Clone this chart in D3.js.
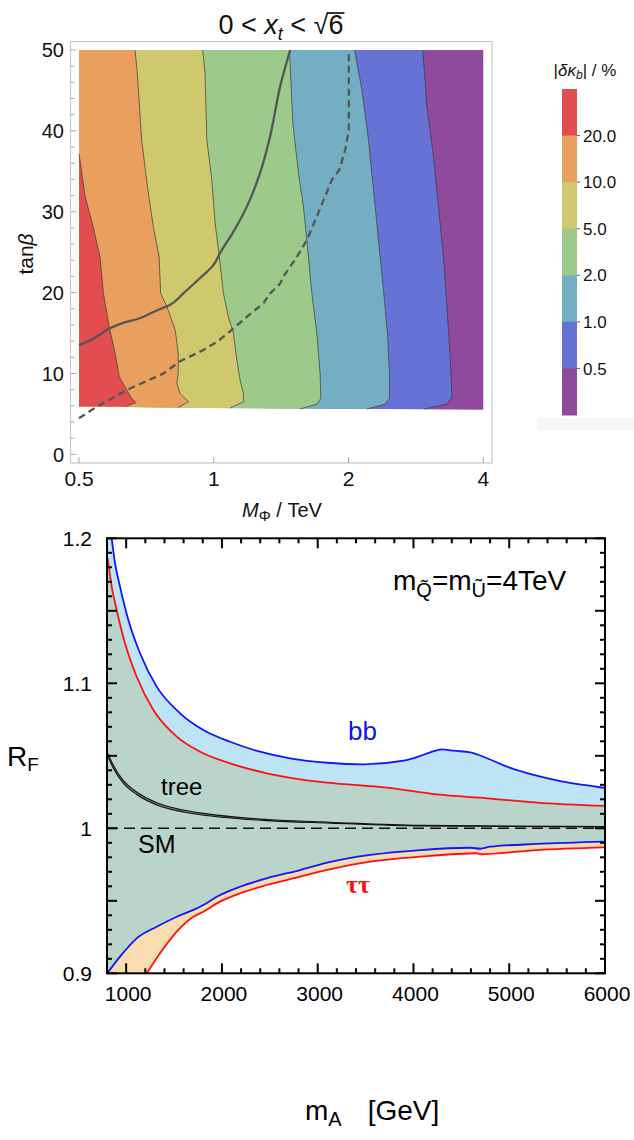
<!DOCTYPE html>
<html><head><meta charset="utf-8">
<script src="https://cdn.jsdelivr.net/npm/d3@7"></script>
<style>
body{margin:0;background:#fff}
svg{display:block}
text{font-family:"Liberation Sans",Arial,Helvetica,sans-serif}
</style>
</head><body>
<svg id="c" width="634" height="1140"></svg>
<script>
// ---------------- TOP PANEL DATA (M_Phi in TeV, tan beta) ----------------
const topXTicks = [0.5, 1, 2, 4];
const topXTickLabels = ["0.5", "1", "2", "4"];
const topYTicks = [0, 10, 20, 30, 40, 50];
const bandLabels = ["20.0", "10.0", "5.0", "2.0", "1.0", "0.5"];
const bandColors = ["#e24e4f", "#e9a05f", "#cfc86d", "#9dc98b", "#74aec2", "#6672d5", "#8f4a9e"];
const fillBase = [[4, 5.5], [0.5, 5.9]];
// contour boundaries (left → right): 20%, 10%, 5%, 2%, 1%, 0.5%
const contour20 = [[0.5,37.2],[0.516,31.9],[0.538,28.1],[0.557,24.4],[0.567,19.9],[0.584,15.8],[0.602,12.5],[0.615,9.6],[0.639,7.95],[0.656,6.9],[0.670,6.4],[0.634,5.9]];
const contour10 = [[0.667,50],[0.675,47.1],[0.690,38.9],[0.711,33.1],[0.733,28.1],[0.755,24.4],[0.761,19.9],[0.785,18.3],[0.820,15.4],[0.833,12.5],[0.833,10.0],[0.827,8.8],[0.841,7.5],[0.878,6.5],[0.833,5.8]];
const contour5 = [[0.945,50],[0.956,47.1],[0.965,38.9],[0.990,33.9],[1.007,28.6],[1.029,24.4],[1.051,19.9],[1.078,17.0],[1.106,15.0],[1.126,11.7],[1.145,9.2],[1.165,7.5],[1.165,6.5],[1.087,5.7]];
const contour2 = [[1.476,50],[1.502,40.9],[1.546,34.8],[1.586,30.6],[1.619,25.7],[1.656,19.9],[1.699,15.0],[1.728,10.0],[1.734,6.9],[1.699,6.2],[1.559,5.6]];
const contour1 = [[2.062,50],[2.142,45.1],[2.216,38.9],[2.274,32.7],[2.333,26.5],[2.394,20.3],[2.443,15.0],[2.469,10.0],[2.469,6.9],[2.415,6.2],[2.197,5.6]];
const contour05 = [[2.931,50],[2.992,43.0],[3.096,36.8],[3.176,30.6],[3.259,24.4],[3.316,18.3],[3.373,12.1],[3.403,7.1],[3.316,6.2],[2.951,5.6]];
const solidCurve = [[0.5,13.5],[0.538,14.3],[0.587,15.6],[0.623,16.2],[0.673,16.7],[0.733,17.6],[0.799,18.5],[0.855,19.9],[0.932,21.8],[0.998,23.4],[1.033,24.9],[1.106,27.5],[1.185,30.6],[1.269,34.8],[1.336,39.3],[1.407,45.5],[1.481,50]];
const dashedCurve = [[0.5,4.45],[0.548,5.9],[0.639,7.95],[0.772,10.0],[0.841,11.5],[0.948,12.9],[1.016,13.9],[1.087,15.2],[1.185,17.0],[1.291,18.7],[1.336,19.9],[1.407,21.1],[1.431,22.0],[1.533,24.4],[1.614,26.5],[1.699,29.4],[1.773,31.9],[1.835,33.9],[1.908,35.2],[1.965,37.6],[2.003,40.1],[2.003,45.1],[2.003,49.6]];

// ---------------- BOTTOM PANEL DATA (m_A in GeV, R_F) ----------------
const botXTicks = [1000, 2000, 3000, 4000, 5000, 6000];
const botYTicks = [0.9, 1.0, 1.1, 1.2];
const bbUpper = [[849,1.2],[884,1.1828],[936,1.1667],[1023,1.1437],[1145,1.1207],[1319,1.0977],[1563,1.0793],[1806,1.0678],[2085,1.0597],[2399,1.0528],[2712,1.0483],[3100,1.0452],[3478,1.0441],[3896,1.0466],[4071,1.0499],[4175,1.0524],[4297,1.0545],[4419,1.0535],[4593,1.0524],[4768,1.0483],[4977,1.0425],[5255,1.0368],[5534,1.0326],[5777,1.0299],[6000,1.0278]];
const bbLower = [[803,0.9],[936,0.9115],[1110,0.9241],[1319,0.9321],[1528,0.939],[1772,0.9459],[1806,0.9471],[1946,0.9528],[2190,0.9597],[2469,0.9655],[2817,0.9712],[3100,0.9763],[3548,0.9816],[4071,0.985],[4593,0.9866],[4698,0.9859],[4802,0.9873],[5290,0.9892],[6000,0.9908]];
const tautauUpper = [[807,1.1862],[849,1.1667],[901,1.1506],[988,1.1276],[1110,1.1045],[1284,1.0816],[1528,1.0632],[1772,1.0528],[2085,1.0448],[2469,1.0379],[2817,1.0338],[3100,1.0315],[3723,1.028],[4245,1.0234],[4768,1.0207],[5290,1.0177],[6000,1.0154]];
const tautauLower = [[1215,0.9],[1354,0.9138],[1528,0.9287],[1702,0.939],[1806,0.9425],[1981,0.9494],[2190,0.9552],[2469,0.9609],[2817,0.9667],[3100,0.9714],[3548,0.977],[4071,0.9804],[4663,0.9828],[4698,0.9821],[5290,0.985],[6000,0.9868]];
const treeUpper = [[803,1.0525],[866,1.0435],[970,1.033],[1110,1.025],[1319,1.0176],[1597,1.0126],[1946,1.0091],[2469,1.0061],[3130,1.0042],[4071,1.002],[6000,1.0012]];
const treeLower = [[803,1.0505],[866,1.0415],[970,1.0312],[1110,1.0233],[1319,1.0161],[1597,1.0113],[1946,1.008],[2469,1.0053],[3130,1.0036],[4071,1.0016],[6000,1.001]];
const smValue = 1.0;

const svg = d3.select("#c");

// ======================= TOP PANEL =======================
const xT = d3.scaleLog().base(2).domain([0.5, 4]).range([79, 483.3]);
const yT = d3.scaleLinear().domain([0, 50]).range([454.3, 50]);
const lineT = d3.line().x(d => xT(d[0])).y(d => yT(d[1]));
const gT = svg.append("g");

const frT = {x0: 70.5, y0: 41.5, x1: 492, y1: 463};
gT.append("rect").attr("x", frT.x0).attr("y", frT.y0)
  .attr("width", frT.x1 - frT.x0).attr("height", frT.y1 - frT.y0)
  .attr("fill", "#fff").attr("stroke", "#c8c8c8").attr("stroke-width", 1.2);

gT.append("path").attr("d", lineT([[0.5, 50], [4, 50], ...fillBase]) + "Z").attr("fill", bandColors[6]);
const contours = [contour05, contour1, contour2, contour5, contour10, contour20];
const contourColors = [bandColors[5], bandColors[4], bandColors[3], bandColors[2], bandColors[1], bandColors[0]];
contours.forEach((c, i) => {
  const pts = (c[0][0] > 0.5 ? [[0.5, 50]] : []).concat(c).concat([fillBase[1]]);
  gT.append("path").attr("d", lineT(pts) + "Z").attr("fill", contourColors[i]);
});
contours.forEach(c => {
  gT.append("path").attr("d", lineT(c)).attr("fill", "none")
    .attr("stroke", "#3c3c3c").attr("stroke-width", 0.9).attr("stroke-opacity", 0.8);
});
gT.append("path").attr("d", lineT.curve(d3.curveMonotoneY)(solidCurve)).attr("fill", "none")
  .attr("stroke", "#555").attr("stroke-width", 2.3);
lineT.curve(d3.curveLinear);
gT.append("path").attr("d", lineT(dashedCurve)).attr("fill", "none")
  .attr("stroke", "#555").attr("stroke-width", 2.3).attr("stroke-dasharray", "7,4.5");

d3.range(0, 51, 2).forEach(v => {
  const major = v % 10 === 0;
  gT.append("line").attr("x1", frT.x0).attr("x2", frT.x0 + (major ? 6 : 4))
    .attr("y1", yT(v)).attr("y2", yT(v)).attr("stroke", "#aaa").attr("stroke-width", 1);
});
topXTicks.forEach(v => {
  gT.append("line").attr("x1", xT(v)).attr("x2", xT(v))
    .attr("y1", frT.y1).attr("y2", frT.y1 - 6).attr("stroke", "#aaa").attr("stroke-width", 1);
});
topYTicks.forEach(v => {
  gT.append("text").attr("x", 64).attr("y", yT(v)).attr("dy", "0.36em")
    .attr("text-anchor", "end").attr("font-size", 20).attr("fill", "#111").text(v);
});
topXTicks.forEach((v, i) => {
  gT.append("text").attr("x", xT(v)).attr("y", 486)
    .attr("text-anchor", "middle").attr("font-size", 21).attr("fill", "#111").text(topXTickLabels[i]);
});
const xlabT = gT.append("text").attr("x", 282).attr("y", 517).attr("text-anchor", "middle")
  .attr("font-size", 20).attr("fill", "#111");
xlabT.append("tspan").attr("font-style", "italic").text("M");
xlabT.append("tspan").attr("font-size", 15).attr("dy", 4).text("Φ");
xlabT.append("tspan").attr("dy", -4).text(" / TeV");
const ylabT = gT.append("text").attr("transform", "translate(33,254) rotate(-90)")
  .attr("text-anchor", "middle").attr("font-size", 21).attr("fill", "#111");
ylabT.append("tspan").text("tan");
ylabT.append("tspan").attr("font-style", "italic").text("β");

const title = gT.append("text").attr("x", 281).attr("y", 34).attr("text-anchor", "middle")
  .attr("font-size", 27).attr("fill", "#111");
title.append("tspan").text("0 < ");
title.append("tspan").attr("font-style", "italic").text("x");
title.append("tspan").attr("font-style", "italic").attr("font-size", 18).attr("dy", 6).text("t");
title.append("tspan").attr("dy", -6).text(" < √6");
{
  const node = title.node();
  const n = node.getNumberOfChars();
  const e6 = node.getExtentOfChar(n - 1);
  const er = node.getExtentOfChar(n - 2);
  gT.append("line").attr("x1", er.x + er.width - 1.5).attr("x2", e6.x + e6.width + 1)
    .attr("y1", e6.y + 3).attr("y2", e6.y + 3).attr("stroke", "#111").attr("stroke-width", 1.7);
}

// colorbar
const yCB = d3.scaleBand().domain(d3.range(7)).range([89, 415]);
gT.append("rect").attr("x", 537).attr("y", 418).attr("width", 97).attr("height", 12).attr("fill", "#f6f6f6");
bandColors.forEach((c, i) => {
  gT.append("rect").attr("x", 562).attr("y", yCB(i)).attr("width", 15)
    .attr("height", yCB.bandwidth() + 0.5).attr("fill", c);
});
bandLabels.forEach((l, i) => {
  const y = yCB(i + 1);
  gT.append("line").attr("x1", 577).attr("x2", 580).attr("y1", y).attr("y2", y).attr("stroke", "#666");
  gT.append("text").attr("x", 583).attr("y", y).attr("dy", "0.36em").attr("font-size", 17)
    .attr("fill", "#111").text(l);
});
const cbT = gT.append("text").attr("x", 585).attr("y", 76).attr("text-anchor", "middle")
  .attr("font-size", 17).attr("fill", "#111");
cbT.append("tspan").text("|");
cbT.append("tspan").attr("font-style", "italic").text("δκ");
cbT.append("tspan").attr("font-style", "italic").attr("font-size", 12).attr("dy", 3).text("b");
cbT.append("tspan").attr("dy", -3).text("| / %");

// ======================= BOTTOM PANEL =======================
const xB = d3.scaleLinear().domain([800, 6000]).range([107, 605]);
const yB = d3.scaleLinear().domain([0.9, 1.2]).range([973.3, 538.3]);
const lineB = d3.line().x(d => xB(d[0])).y(d => yB(d[1])).curve(d3.curveMonotoneX);
const gB = svg.append("g");
const defs = svg.append("defs");
defs.append("clipPath").attr("id", "plotB").append("rect")
  .attr("x", xB.range()[0]).attr("y", yB.range()[1])
  .attr("width", xB.range()[1] - xB.range()[0]).attr("height", yB.range()[0] - yB.range()[1]);

const x0 = xB.domain()[0], yLo = yB.domain()[0], yHi = yB.domain()[1];
const bbPoly = lineB(bbUpper) + lineB(bbLower.slice().reverse()).replace(/^M/, "L")
  + "L" + xB(x0) + "," + yB(yLo) + "L" + xB(x0) + "," + yB(yHi) + "Z";
const ttPoly = lineB(tautauUpper) + lineB(tautauLower.slice().reverse()).replace(/^M/, "L")
  + "L" + xB(x0) + "," + yB(yLo) + "Z";
defs.append("clipPath").attr("id", "bbClip").append("path").attr("d", bbPoly);

const plot = gB.append("g").attr("clip-path", "url(#plotB)");
plot.append("path").attr("d", bbPoly).attr("fill", "#bde4f5");
plot.append("path").attr("d", ttPoly).attr("fill", "#f9dcb0");
plot.append("g").attr("clip-path", "url(#bbClip)").append("path").attr("d", ttPoly).attr("fill", "#b8d4cb");

plot.append("line").attr("x1", xB(x0)).attr("x2", xB(6000)).attr("y1", yB(smValue)).attr("y2", yB(smValue))
  .attr("stroke", "#111").attr("stroke-width", 1.4).attr("stroke-dasharray", "11,6");

const treePoly = lineB(treeUpper) + lineB(treeLower.slice().reverse()).replace(/^M/, "L") + "Z";
plot.append("path").attr("d", treePoly).attr("fill", "#888");
[treeUpper, treeLower].forEach(t => plot.append("path").attr("d", lineB(t)).attr("fill", "none")
  .attr("stroke", "#111").attr("stroke-width", 1.1));

[[tautauUpper, "#ff1010"], [tautauLower, "#ff1010"], [bbUpper, "#1414ff"], [bbLower, "#1414ff"]].forEach(([d, c]) => {
  plot.append("path").attr("d", lineB(d)).attr("fill", "none").attr("stroke", c).attr("stroke-width", 1.8);
});

gB.append("rect").attr("x", xB.range()[0]).attr("y", yB.range()[1])
  .attr("width", xB.range()[1] - xB.range()[0]).attr("height", yB.range()[0] - yB.range()[1])
  .attr("fill", "none").attr("stroke", "#000").attr("stroke-width", 2);
d3.range(800, 6001, 200).forEach(v => {
  const L = v % 1000 === 0 ? 10 : 5;
  const X = xB(v);
  gB.append("line").attr("x1", X).attr("x2", X).attr("y1", yB.range()[0]).attr("y2", yB.range()[0] - L).attr("stroke", "#000").attr("stroke-width", 2);
  gB.append("line").attr("x1", X).attr("x2", X).attr("y1", yB.range()[1]).attr("y2", yB.range()[1] + L).attr("stroke", "#000").attr("stroke-width", 2);
});
d3.range(90, 121).forEach(k => {
  const L = k % 5 === 0 ? 10 : 5;
  const Y = yB(k / 100);
  gB.append("line").attr("x1", xB.range()[0]).attr("x2", xB.range()[0] + L).attr("y1", Y).attr("y2", Y).attr("stroke", "#000").attr("stroke-width", 2);
  gB.append("line").attr("x1", xB.range()[1]).attr("x2", xB.range()[1] - L).attr("y1", Y).attr("y2", Y).attr("stroke", "#000").attr("stroke-width", 2);
});
botYTicks.forEach(v => {
  gB.append("text").attr("x", 92).attr("y", yB(v)).attr("dy", "0.36em").attr("text-anchor", "end")
    .attr("font-size", 21).attr("fill", "#000").text(String(v));
});
botXTicks.forEach(v => {
  gB.append("text").attr("x", xB(v) + 2).attr("y", 1001).attr("text-anchor", "middle")
    .attr("font-size", 21).attr("fill", "#000").text(v);
});
const rf = gB.append("text").attr("x", 7).attr("y", 766).attr("font-size", 28).attr("fill", "#000");
rf.append("tspan").text("R");
rf.append("tspan").attr("font-size", 19).attr("dy", 5).text("F");
const ma = gB.append("text").attr("x", 305).attr("y", 1120).attr("font-size", 28).attr("fill", "#000");
ma.append("tspan").text("m");
ma.append("tspan").attr("font-size", 20).attr("dy", 6).text("A");
ma.append("tspan").attr("dy", -6).attr("dx", 26).text("[GeV]");

gB.append("text").attr("x", 348).attr("y", 740).attr("font-size", 26).attr("fill", "#1010ee").text("bb");
gB.append("text").attr("x", 346).attr("y", 893).attr("font-size", 26).attr("font-weight", "bold")
  .attr("style", "font-family:'Liberation Serif','DejaVu Serif',serif").attr("fill", "#ff1010").text("ττ");
gB.append("text").attr("x", 161).attr("y", 795).attr("font-size", 24).attr("fill", "#000").text("tree");
gB.append("text").attr("x", 138).attr("y", 853).attr("font-size", 25).attr("fill", "#000").text("SM");
const mq = gB.append("text").attr("x", 393).attr("y", 590).attr("font-size", 28).attr("fill", "#000");
mq.append("tspan").text("m");
mq.append("tspan").attr("font-size", 20).attr("dy", 7).text("Q\u0303");
mq.append("tspan").attr("dy", -7).text("=m");
mq.append("tspan").attr("font-size", 20).attr("dy", 7).text("U\u0303");
mq.append("tspan").attr("dy", -7).text("=4TeV");
</script>
</body></html>
